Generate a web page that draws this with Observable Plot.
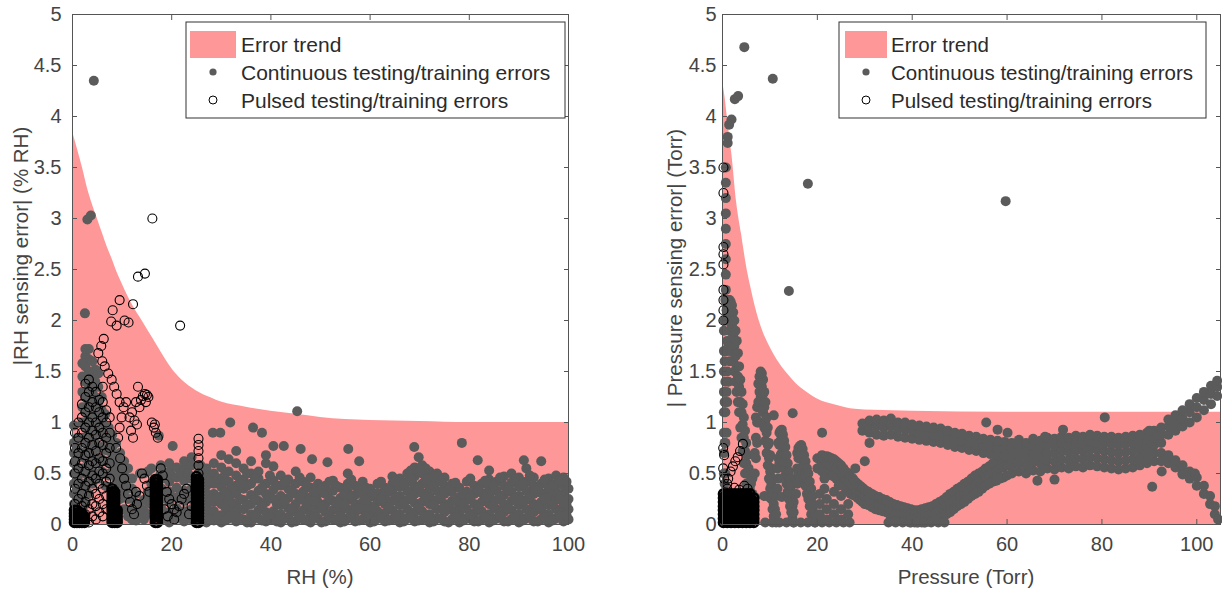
<!DOCTYPE html>
<html><head><meta charset="utf-8">
<script src="https://cdn.jsdelivr.net/npm/d3@7"></script>
<script src="https://cdn.jsdelivr.net/npm/@observablehq/plot@0.6"></script>
<style>
body{margin:0;background:#fff;font-family:"Liberation Sans",Arial,sans-serif}
#wrap{position:relative;width:1222px;height:590px;overflow:hidden}
.panel{position:absolute;top:0}
</style></head><body><div id="wrap"><div class="panel" id="left" style="left:0"></div><div class="panel" id="right" style="left:611px"></div></div>
<script>
// ---------- DATA ----------
const xTicks = [0, 20, 40, 60, 80, 100];
const yTicks = [0, 0.5, 1, 1.5, 2, 2.5, 3, 3.5, 4, 4.5, 5];

// Error trend (upper edge of the shaded band)
const rhTrendX = [0,1,2,3,4,5,6,7,8,9,10,12,14,16,18,20,22,25,28,30,35,40,45,50,55,60,70,80,90,100];
const rhTrendY = [3.85,3.68,3.5,3.3,3.14,3.0,2.86,2.72,2.6,2.47,2.36,2.16,2.0,1.84,1.68,1.53,1.42,1.31,1.24,1.2,1.15,1.11,1.08,1.05,1.03,1.02,1.01,1.0,1.0,1.0];
const pTrendX = [0,0.5,1,2,3,4,5,6,7,8,10,12,14,16,18,20,24,28,32,40,60,80,100,105];
const pTrendY = [4.35,4.2,4.0,3.62,3.15,2.85,2.55,2.32,2.12,1.96,1.74,1.58,1.46,1.36,1.29,1.23,1.17,1.13,1.12,1.11,1.1,1.1,1.1,1.1];

// RH panel: continuous errors, "x: y y y"
const rhContinuous = [
 "4.3:4.35","3.0:2.99","3.7:3.03","2.5:2.07","45.3:1.11",
 "0.3:0.03 0.1 0.2 0.3 0.4 0.5 0.6 0.7 0.8 0.97",
 "1.0:0.05 0.15 0.25 0.35 0.45 0.55 0.65 0.75 0.85",
 "1.5:0.1 0.3 0.5 0.7",
 "2.0:0.1 0.25 0.4 0.55 0.7 0.85 1.0 1.15 1.3 1.45 1.58",
 "2.6:0.2 0.35 0.5 0.65 0.8 0.95 1.1 1.25 1.4 1.55 1.65 1.72",
 "3.3:0.3 0.45 0.6 0.75 0.9 1.05 1.2 1.35 1.5 1.62 1.72",
 "4.0:0.4 0.55 0.7 0.85 1.0 1.15 1.3 1.45 1.6",
 "4.6:0.5 0.65 0.8 0.95 1.1 1.25 1.4 1.52",
 "5.2:0.45 0.6 0.75 0.9 1.05 1.2 1.35 1.48",
 "5.9:0.52 0.64 0.76 0.88 1.0 1.12 1.25",
 "6.6:0.38 0.5 0.62 0.73 0.85 0.96 1.08",
 "7.3:0.36 0.48 0.6 0.72 0.83 0.95",
 "8.0:0.52 0.64 0.76 0.88",
 "8.8:0.45 0.56 0.68 0.8",
 "9.6:0.25 0.4 0.5 0.6 0.7",
 "10.4:0.15 0.32 0.42 0.52 0.62",
 "11.2:0.08 0.25 0.35 0.45 0.55",
 "12.0:0.05 0.15 0.25 0.35 0.45",
 "12.8:0.04 0.1 0.2 0.3",
 "13.6:0.08 0.16 0.5",
 "14.4:0.05 0.14 0.24 0.5",
 "15.2:0.1 0.22 0.32 0.52",
 "15.9:0.2 0.3 0.4 0.55",
 "17.4:0.87","17.8:0.5 0.58",
 "18.0:0.05 0.15 0.25 0.35 0.45",
 "18.8:0.1 0.3 0.5",
 "19.5:0.02 0.12 0.22 0.32 0.42 0.52 0.6",
 "20.2:0.77 0.07 0.27 0.47",
 "21.0:0.06 0.16 0.26 0.36 0.46 0.56",
 "21.8:0.1 0.3 0.5",
 "22.5:0.03 0.13 0.23 0.33 0.43 0.55 0.62",
 "23.3:0.08 0.28 0.5",
 "24.0:0.05 0.15 0.25 0.35 0.45 0.58 0.66",
 "25.8:0.05 0.12 0.2 0.28 0.36 0.44 0.52 0.58",
 "27.0:0.02 0.1 0.18 0.3 0.38 0.47 0.55",
 "28.5:0.04 0.13 0.22 0.3 0.4 0.5 0.6",
 "30.0:0.02 0.09 0.2 0.28 0.37 0.45 0.56 0.68",
 "31.5:0.06 0.14 0.25 0.33 0.42 0.52 0.64",
 "33.0:0.03 0.11 0.19 0.3 0.38 0.48 0.6 0.72",
 "34.5:0.05 0.15 0.24 0.35 0.44 0.55",
 "36.0:0.02 0.1 0.2 0.29 0.4 0.5 0.62",
 "37.5:0.06 0.14 0.23 0.33 0.45 0.52",
 "39.0:0.03 0.12 0.22 0.3 0.4 0.6 0.68",
 "40.5:0.05 0.13 0.25 0.34 0.43 0.57",
 "42.0:0.02 0.1 0.19 0.28 0.38 0.48",
 "43.5:0.07 0.16 0.26 0.35 0.44",
 "45.0:0.03 0.12 0.2 0.3 0.4 0.52",
 "46.5:0.05 0.14 0.24 0.32 0.42",
 "48.0:0.02 0.1 0.18 0.27 0.36 0.46",
 "49.5:0.06 0.15 0.22 0.3 0.4",
 "51.0:0.03 0.12 0.2 0.3 0.38",
 "52.5:0.05 0.14 0.23 0.33 0.43",
 "54.0:0.02 0.1 0.18 0.26 0.36",
 "55.5:0.06 0.15 0.24 0.32 0.4 0.5",
 "57.0:0.03 0.12 0.2 0.29 0.38",
 "58.5:0.05 0.14 0.22 0.3 0.42",
 "60.0:0.02 0.1 0.18 0.27 0.35",
 "61.5:0.06 0.13 0.22 0.31 0.4",
 "63.0:0.03 0.11 0.2 0.28 0.36",
 "64.5:0.05 0.14 0.23 0.32 0.4 0.47",
 "66.0:0.02 0.1 0.19 0.28 0.37 0.45",
 "67.5:0.06 0.15 0.24 0.33 0.42 0.5",
 "69.0:0.03 0.12 0.21 0.3 0.38 0.47 0.56",
 "70.5:0.05 0.13 0.22 0.31 0.4 0.5 0.58",
 "72.0:0.02 0.1 0.2 0.28 0.36 0.45 0.52",
 "73.5:0.06 0.15 0.24 0.33 0.42 0.5",
 "75.0:0.03 0.12 0.2 0.3 0.38 0.46",
 "76.5:0.05 0.14 0.23 0.32 0.4",
 "78.0:0.02 0.1 0.18 0.27 0.36",
 "79.5:0.06 0.15 0.24 0.32 0.42",
 "81.0:0.03 0.11 0.2 0.3 0.38",
 "82.5:0.05 0.13 0.22 0.31 0.4",
 "84.0:0.02 0.1 0.2 0.28 0.36 0.44",
 "85.5:0.06 0.15 0.24 0.33 0.42",
 "87.0:0.03 0.12 0.2 0.29 0.38 0.47",
 "88.5:0.05 0.14 0.23 0.32 0.41 0.5",
 "90.0:0.02 0.1 0.19 0.28 0.37 0.46",
 "91.5:0.06 0.15 0.24 0.33 0.42 0.55",
 "93.0:0.03 0.12 0.2 0.3 0.38 0.46",
 "94.5:0.05 0.14 0.22 0.31 0.4",
 "96.0:0.02 0.1 0.19 0.28 0.36 0.45",
 "97.5:0.06 0.15 0.24 0.32 0.4 0.48",
 "99.0:0.03 0.12 0.2 0.3 0.38 0.46",
 "100.0:0.05 0.15 0.25 0.35",
 "26.4:0.07 0.24 0.4","27.8:0.05 0.22 0.42","29.2:0.08 0.26 0.45","30.8:0.04 0.17 0.32 0.5","32.2:0.09 0.21 0.37",
 "33.8:0.06 0.25 0.43","35.2:0.02 0.19 0.38 0.5","36.8:0.08 0.25 0.45","38.2:0.04 0.18 0.36","39.8:0.07 0.26 0.48",
 "41.2:0.03 0.2 0.38","42.8:0.06 0.23 0.42","44.2:0.02 0.16 0.34","45.8:0.08 0.27 0.46","47.2:0.04 0.2 0.38",
 "48.8:0.07 0.23 0.32","50.2:0.02 0.18 0.35","51.8:0.08 0.25 0.42","53.2:0.05 0.21 0.38","54.8:0.03 0.19 0.3",
 "56.2:0.07 0.28 0.44","57.8:0.04 0.16 0.33","59.2:0.08 0.24 0.36","60.8:0.03 0.16 0.3","62.2:0.07 0.25 0.42",
 "63.8:0.04 0.17 0.34","65.2:0.08 0.27 0.43","66.8:0.03 0.21 0.4","68.2:0.07 0.26 0.45 0.53","69.8:0.04 0.17 0.36 0.52",
 "71.2:0.08 0.27 0.44 0.55","72.8:0.03 0.19 0.38 0.47","74.2:0.06 0.26 0.43","75.8:0.02 0.18 0.35","77.2:0.07 0.23 0.41",
 "78.8:0.04 0.2 0.3","80.2:0.08 0.27 0.45","81.8:0.03 0.16 0.34","83.2:0.07 0.26 0.43","84.8:0.04 0.18 0.38",
 "86.2:0.08 0.27 0.46","87.8:0.03 0.16 0.34","89.2:0.07 0.26 0.44","90.8:0.04 0.23 0.4","92.2:0.08 0.27 0.48",
 "93.8:0.03 0.17 0.35","95.2:0.07 0.26 0.44","96.8:0.04 0.2 0.38","98.2:0.08 0.25 0.43","99.6:0.09 0.2 0.42",
 "28.3:0.9","29.8:0.9","31.8:1.0","36.4:0.95","38.2:0.9","40.5:0.77","42.6:0.77",
 "46.0:0.74","48.3:0.64","51.4:0.61","55.6:0.74","57.8:0.62","68.9:0.76","69.8:0.66",
 "78.5:0.8","81.7:0.63","84.0:0.53","91.0:0.63","94.5:0.62"
];

// RH panel: pulsed errors (scattered)
const rhPulsed = [
 "16.1:3.0","13.2:2.43","14.6:2.46","12.2:2.16","9.5:2.2","21.7:1.95",
 "8.1:2.1","7.8:1.99","8.9:1.95","10.5:2.0","11.3:1.98",
 "6.3:1.82","5.8:1.75","5.2:1.68","6.0:1.6","6.5:1.55","7.2:1.48","7.9:1.42","8.4:1.35","8.9:1.28",
 "0.5:0.05 0.2 0.35 0.5 0.62 0.75 0.9",
 "1.2:0.1 0.25 0.4 0.55 0.7 0.85 1.0",
 "1.9:0.05 0.18 0.3 0.45 0.6 0.75 0.9 1.05 1.18",
 "2.6:0.1 0.22 0.38 0.52 0.68 0.8 0.95 1.1 1.25 1.38",
 "3.3:0.02 0.15 0.28 0.42 0.58 0.7 0.85 1.0 1.15 1.3 1.42",
 "4.0:0.08 0.2 0.35 0.48 0.62 0.78 0.92 1.05 1.2 1.35",
 "4.7:0.05 0.18 0.3 0.45 0.6 0.72 0.88 1.0 1.15 1.3",
 "5.4:0.12 0.25 0.4 0.52 0.65 0.8 0.95 1.1 1.22",
 "6.1:0.08 0.2 0.35 0.5 0.62 0.78 0.9 1.05 1.2 1.35",
 "6.8:0.15 0.28 0.42 0.55 0.7 0.85 1.0 1.12",
 "7.5:0.45 0.6 0.75 0.9 1.05",
 "9.5:0.95 1.2","9.9:1.05","10.3:1.15","10.8:1.2 0.38","9.2:0.85","8.8:0.75","9.6:0.65","10.0:0.55","10.4:0.45",
 "11.2:0.3","11.6:0.22","12.0:0.15 1.1","12.4:0.1",
 "11.5:1.05","12.5:1.02","12.8:1.2 0.32","13.0:0.98 0.2","13.2:1.35","13.5:1.15 0.28","11.8:0.92","12.2:0.85",
 "13.8:1.22","14.2:1.26","14.6:1.28","15.0:1.27 0.38","15.3:1.25","14.8:1.2",
 "16.0:1.0","16.4:0.95","16.6:0.98","16.8:0.9","17.2:0.85",
 "14.0:0.5","14.5:0.45","15.5:0.32",
 "17.8:0.55","18.2:0.48","18.6:0.4","19.0:0.32","19.5:0.25","20.0:0.2","20.5:0.15 0.05","21.0:0.12","21.5:0.18",
 "22.0:0.25","22.5:0.3","23.0:0.35","18.5:0.15","19.2:0.08","23.5:0.1","24.0:0.18",
 "25.4:0.5 0.58 0.65 0.72 0.78 0.84"
];
// RH panel: pulsed errors packed into solid columns
const rhPulsedDense = [
 "8.0:0.02 0.05 0.08 0.11 0.14 0.17 0.2 0.23 0.26 0.29 0.32 0.35",
 "8.5:0.02 0.05 0.08 0.11 0.14 0.17 0.2 0.23 0.26 0.29 0.32",
 "9.0:0.02 0.05 0.08 0.11 0.14",
 "16.7:0.02 0.05 0.08 0.11 0.14 0.17 0.2 0.23 0.26 0.29 0.32 0.35 0.38 0.41 0.44",
 "17.1:0.02 0.05 0.08 0.11 0.14 0.17 0.2 0.23 0.26 0.29 0.32 0.35 0.38 0.41 0.44",
 "25.0:0.02 0.05 0.08 0.11 0.14 0.17 0.2 0.23 0.26 0.29 0.32 0.35 0.38 0.41 0.44 0.47",
 "25.4:0.02 0.05 0.08 0.11 0.14 0.17 0.2 0.23 0.26 0.29 0.32 0.35 0.38 0.41 0.44",
 "0.4:0.02 0.05 0.08 0.11 0.14","0.9:0.02 0.05 0.08 0.11 0.14","1.4:0.02 0.05 0.08 0.11","1.9:0.02 0.05 0.08 0.11","2.4:0.02 0.05 0.08"
];

// Pressure panel: continuous errors
const pContinuous = [
 "4.6:4.68","10.6:4.37","2.6:4.17","3.3:4.2","1.9:3.97","1.4:3.92","1.1:3.74 3.8","18.0:3.34","14.0:2.29","59.7:3.17",
 "0.7:2.3 2.45 2.6 2.75 2.9 3.05 3.2 3.35 3.5",
 "0.3:0.1 0.3 0.5 0.7 0.9 1.1 1.3 1.5 1.7 1.9",
 "0.45:0.4 0.8 1.2 1.6 2.0",
 "0.6:0.2 0.5 0.8 1.1 1.4 1.7 2.0 2.2",
 "0.85:0.9 1.3 1.7 2.1",
 "1.0:1.2 1.5 1.8 2.0 2.15","1.25:1.4 1.75 2.05 2.2","1.5:1.6 1.9 2.1 2.2","1.75:1.7 2.0 2.18","2.0:1.7 1.95 2.15",
 "2.25:1.6 1.85 2.08","2.5:1.5 1.75 2.0","2.75:1.4 1.65 1.9",
 "3.0:1.3 1.55 1.8","3.25:1.2 1.45 1.68","3.5:1.1 1.35 1.55","3.75:0.95 1.2 1.42","4.0:0.85 1.1 1.3","4.25:0.72 0.98 1.18",
 "4.5:0.6 0.85 1.05","4.75:0.5 0.72 0.92","5.0:0.4 0.6 0.8","5.25:0.32 0.5 0.68","5.5:0.25 0.4 0.55","5.75:0.25 0.35 0.48","6.0:0.3 0.4",
 "6.3:0.3 0.45","6.8:0.5 0.7 0.27","7.05:0.65 0.85 1.05","7.3:0.8 1.0 1.15","7.55:1.0 1.2 1.38","7.8:1.15 1.3 1.45",
 "8.05:1.25 1.4 1.5","8.3:1.2 1.35 1.48","8.55:1.1 1.28 1.42","8.8:0.95 1.15 1.3 0.28","9.05:0.82 1.02 1.2",
 "9.3:0.7 0.9 1.05","9.55:0.58 0.78 0.95","9.8:0.45 0.65 0.8 0.27","10.05:0.35 0.52 0.68","10.3:0.25 0.4 0.55",
 "10.55:0.15 0.3 0.45","10.8:0.08 0.2 0.32 1.07","11.05:0.05 0.15","11.3:0.02 0.1 0.28",
 "11.6:0.35 0.55","11.8:0.45 0.65 0.8","12.0:0.6 0.78 0.9","12.25:0.68 0.82 0.92","12.5:0.7 0.85 0.93 0.27","12.75:0.62 0.78 0.88",
 "13.0:0.55 0.7 0.82","13.25:0.48 0.62 0.76","13.5:0.4 0.55 0.68","13.75:0.32 0.48 0.6",
 "14.0:0.25 0.4 0.52","14.25:0.18 0.32 0.45","14.5:0.12 0.25 0.38","14.75:0.06 0.18 0.3","15.0:0.02 0.12 0.22","14.8:1.09",
 "15.5:0.3 0.45","15.75:0.4 0.55 0.7","16.0:0.5 0.65 0.75","16.3:0.55 0.68 0.77","16.6:0.55 0.68 0.78","16.9:0.5 0.63 0.74",
 "17.2:0.45 0.58 0.68","17.5:0.38 0.5 0.62","17.8:0.3 0.45 0.55","18.1:0.25 0.38 0.5",
 "18.4:0.18 0.3 0.42","18.7:0.1 0.22 0.35","19.0:0.05 0.15 0.28","19.5:0.02 0.1",
 "20.0:0.55 0.65","20.5:0.56 0.64","21.0:0.52 0.62 0.68 0.9","21.5:0.55 0.63","22.0:0.5 0.6 0.67","22.5:0.49 0.59 0.66",
 "23.0:0.48 0.58 0.65","23.5:0.47 0.57 0.64","24.0:0.45 0.55 0.62","24.5:0.43 0.53 0.6",
 "25.0:0.4 0.5 0.58","25.5:0.38 0.48 0.55","26.0:0.35 0.45 0.52","26.5:0.33 0.43 0.5","27.0:0.3 0.4 0.47","27.5:0.29 0.38 0.45",
 "28.0:0.28 0.36 0.42 0.55","28.5:0.26 0.34 0.4","29.0:0.24 0.32 0.38","29.5:0.22 0.3 0.36",
 "30.0:0.2 0.28 0.34 0.62","30.75:0.19 0.26 0.32","31.0:0.8","31.5:0.17 0.24 0.3","32.25:0.15 0.22 0.28","33.0:0.14 0.2 0.27",
 "33.75:0.13 0.19 0.25","34.5:0.12 0.18 0.24","35.25:0.1 0.16 0.22","36.0:0.08 0.14 0.2","36.75:0.06 0.13 0.19",
 "37.5:0.05 0.12 0.18","38.25:0.04 0.11 0.17","39.0:0.03 0.1 0.16","39.75:0.02 0.09 0.15","40.5:0.02 0.08 0.14",
 "41.25:0.02 0.08 0.14","42.0:0.02 0.08 0.15","42.75:0.02 0.09 0.16","43.5:0.03 0.1 0.17","44.25:0.04 0.11 0.18",
 "45.0:0.05 0.12 0.2","45.75:0.06 0.14 0.22","46.5:0.08 0.16 0.24","47.25:0.1 0.18 0.27","48.0:0.12 0.2 0.3",
 "48.75:0.15 0.23 0.32","49.5:0.18 0.26 0.35","50.25:0.2 0.28 0.37","51.0:0.22 0.3 0.4","51.75:0.25 0.33 0.42",
 "52.5:0.28 0.36 0.45","53.25:0.3 0.39 0.48","54.0:0.32 0.42 0.5","54.75:0.35 0.44 0.52","55.5:0.38 0.46 0.55",
 "56.25:0.4 0.48 0.57","57.0:0.42 0.5 0.6","57.75:0.43 0.52 0.62","58.5:0.45 0.55 0.64","59.25:0.46 0.56 0.65","60.0:0.48 0.58 0.67",
 "29.5:0.92 0.99","31.0:0.9 0.98 1.02","32.5:0.88 0.96 1.03","34.0:0.87 0.95 1.02","35.5:0.88 0.96 1.04","37.0:0.86 0.94 1.0",
 "38.5:0.85 0.93 1.0","40.0:0.84 0.92 0.98","41.5:0.83 0.9 0.97","43.0:0.82 0.89 0.96","44.5:0.81 0.88 0.95","46.0:0.8 0.87 0.94",
 "47.5:0.78 0.85 0.92","49.0:0.76 0.84 0.9","50.5:0.75 0.82 0.89","52.0:0.73 0.8 0.87","53.5:0.72 0.78 0.86","55.0:0.7 0.77 0.84",
 "56.5:0.69 0.76 0.83","58.0:0.68 0.75 0.82","59.5:0.67 0.74 0.81",
 "61.0:0.5 0.58 0.66 0.74 0.8","62.5:0.52 0.6 0.68 0.76 0.83","64.0:0.5 0.58 0.66 0.73 0.8","65.5:0.53 0.61 0.69 0.77 0.84",
 "67.0:0.52 0.6 0.67 0.75 0.82","68.5:0.55 0.63 0.7 0.78 0.85","70.0:0.54 0.62 0.7 0.77 0.84","71.5:0.56 0.64 0.72 0.8 0.86",
 "73.0:0.55 0.63 0.71 0.78 0.85","74.5:0.57 0.65 0.73 0.8 0.87","76.0:0.56 0.64 0.72 0.79 0.86","77.5:0.58 0.66 0.74 0.82 0.88",
 "79.0:0.57 0.65 0.73 0.8 0.87","80.5:0.56 0.64 0.72 0.8 0.86","82.0:0.55 0.63 0.71 0.79 0.86","83.5:0.54 0.62 0.7 0.78 0.85",
 "85.0:0.55 0.63 0.71 0.79 0.86","86.5:0.56 0.64 0.72 0.8 0.87","88.0:0.58 0.66 0.74 0.82 0.88","89.5:0.6 0.68 0.76 0.83 0.9",
 "91.0:0.62 0.7 0.78 0.85 0.92","92.5:0.62 0.7 0.8 0.88 0.95",
 "94.0:0.88 0.96 1.03 0.6 0.68","95.5:0.92 1.0 1.07 0.56 0.63","97.0:0.96 1.04 1.12 0.5 0.58","98.5:1.0 1.1 1.18 0.45 0.52",
 "100.0:1.05 1.15 1.24 0.38 0.46","101.5:1.12 1.22 1.3 0.3 0.38","102.8:0.2 0.28","103.0:1.18 1.28 1.36","103.8:0.1 0.18",
 "104.3:1.26 1.35 1.41","104.5:0.05",
 "55.6:1.0","58.0:0.93","60.1:0.9","68.0:0.86","71.8:0.93","80.6:1.05","90.0:0.92","66.4:0.43","70.0:0.44","90.6:0.37",
 "92.6:0.52","97.0:0.49","99.6:0.5",
 "9.0:0.02","10.5:0.02","12.0:0.02","13.5:0.02","15.0:0.02","16.5:0.02","18.0:0.02","19.5:0.02","21.0:0.02",
 "22.5:0.02","24.0:0.02","25.5:0.02","26.8:0.02","35.0:0.02","36.5:0.02","38.0:0.02","39.5:0.02","41.0:0.02",
 "42.5:0.02","44.0:0.02","45.5:0.02","46.8:0.02",
 "20.5:0.1 0.2 0.3","22.0:0.05 0.15 0.25","23.5:0.1 0.2 0.32","25.0:0.05 0.15 0.28","26.5:0.1 0.2","21.5:0.35 0.45","24.5:0.38"
];

// Pressure panel: pulsed errors (scattered)
const pPulsed = [
 "0.2:2.0 2.1 2.2 2.3 2.55 2.65 2.72 3.25 3.5",
 "0.15:0.75 0.55","0.35:0.68 0.45","1.2:0.45","1.7:0.52","2.2:0.57","2.7:0.62","3.2:0.66","3.7:0.72","4.3:0.79",
 "4.6:0.38","5.3:0.35","1.0:0.35 0.4","2.5:0.36","3.5:0.34"
];
// Pressure panel: pulsed errors packed into a solid block
const pPulsedDense = [
 "0.2:0.02 0.06 0.1 0.14 0.18 0.22 0.26 0.3","0.6:0.04 0.08 0.12 0.16 0.2 0.24 0.28",
 "1.0:0.02 0.06 0.1 0.14 0.18 0.22 0.26 0.3","1.4:0.04 0.08 0.12 0.16 0.2 0.24 0.28",
 "1.8:0.02 0.06 0.1 0.14 0.18 0.22 0.26 0.3","2.2:0.04 0.08 0.12 0.16 0.2 0.24 0.28",
 "2.6:0.02 0.06 0.1 0.14 0.18 0.22 0.26 0.3","3.0:0.04 0.08 0.12 0.16 0.2 0.24 0.28",
 "3.4:0.02 0.06 0.1 0.14 0.18 0.22 0.26 0.3","3.8:0.04 0.08 0.12 0.16 0.2 0.24 0.28",
 "4.2:0.02 0.06 0.1 0.14 0.18 0.22 0.26 0.3","4.6:0.04 0.08 0.12 0.16 0.2 0.24 0.28",
 "5.0:0.02 0.06 0.1 0.14 0.18 0.22 0.26 0.3","5.4:0.04 0.08 0.12 0.16 0.2 0.24 0.28",
 "5.8:0.02 0.06 0.1 0.14 0.18 0.22 0.26 0.3","6.2:0.04 0.08 0.12 0.16 0.2 0.24",
 "6.6:0.02 0.06 0.1 0.14 0.18 0.22 0.26"
];

const legendLabels = ["Error trend", "Continuous testing/training errors", "Pulsed testing/training errors"];

// ---------- BUILD ----------
function parse(cols) {
  const out = [];
  for (const c of cols) {
    const [x, ys] = c.split(":");
    for (const y of ys.trim().split(/\s+/)) out.push({x: +x, y: +y});
  }
  return out;
}
const zip = (xs, ys) => xs.map((x, i) => ({x, y: ys[i]}));

const PINK = "#fe9898", GRAY = "#5b5b5b", INK = "#2b2b2b", TICK = "#444";
const FONT = "'Liberation Sans', Arial, sans-serif";

function panel(o) {
  const svg = Plot.plot({
    width: 611, height: 590,
    marginLeft: o.ml, marginRight: o.mr, marginTop: 14, marginBottom: 66,
    x: {domain: o.xd}, y: {domain: [0, 5]},
    style: {fontFamily: FONT, fontSize: "20px", color: TICK, background: "#fff", overflow: "visible"},
    marks: [
      Plot.areaY(o.trend, {x: "x", y: "y", fill: PINK, curve: "monotone-x"}),
      Plot.dot(o.cont, {x: "x", y: "y", r: 5, fill: GRAY}),
      Plot.dot(o.puls, {x: "x", y: "y", r: 4.5, stroke: "#000", strokeWidth: 1.1, fill: "none"}),
      Plot.dot(o.dense, {x: "x", y: "y", r: 4.5, stroke: "#000", strokeWidth: 2.6, fill: "none"}),
      Plot.frame({stroke: "#555"}),
      Plot.axisX(xTicks, {anchor: "bottom", tickSize: -5, tickPadding: 17, tickFormat: d => String(d), label: null, stroke: "#555"}),
      Plot.axisX(xTicks, {anchor: "top", tickSize: -5, tickFormat: () => "", label: null, stroke: "#555"}),
      Plot.axisY(yTicks, {anchor: "left", tickSize: -5, tickPadding: o.yPad, tickFormat: d => String(d), label: null, stroke: "#555"}),
      Plot.axisY(yTicks, {anchor: "right", tickSize: -5, tickFormat: () => "", label: null, stroke: "#555"})
    ]
  });
  const s = d3.select(svg);
  // axis titles
  s.append("text").attr("x", o.xlabX).attr("y", 584).attr("text-anchor", "middle")
    .attr("font-size", 20.5).attr("fill", TICK).attr("font-family", FONT).text(o.xlab);
  s.append("text").attr("transform", `translate(${o.ylabX},${o.ylabY}) rotate(-90)`).attr("text-anchor", "middle")
    .attr("dominant-baseline", "central").attr("font-size", 20.5).attr("fill", TICK).attr("font-family", FONT).text(o.ylab);
  // legend
  const L = o.leg;
  const g = s.append("g").attr("font-family", FONT).attr("font-size", L.fs).attr("fill", INK).attr("text-anchor", "start");
  g.append("rect").attr("x", L.x).attr("y", 22).attr("width", L.w).attr("height", 96)
    .attr("fill", "#fff").attr("stroke", "#333").attr("stroke-width", 1);
  g.append("rect").attr("x", L.x + L.sw0).attr("y", 31).attr("width", L.sw).attr("height", 27).attr("fill", PINK);
  g.append("circle").attr("cx", L.x + L.mk).attr("cy", 72).attr("r", 3.6).attr("fill", GRAY);
  g.append("circle").attr("cx", L.x + L.mk).attr("cy", 100).attr("r", 4).attr("fill", "none").attr("stroke", "#000");
  legendLabels.forEach((t, i) => {
    g.append("text").attr("x", L.x + L.tx).attr("y", 44 + 28 * i).attr("dominant-baseline", "central").attr("text-anchor", "start").text(t);
  });
  return svg;
}

document.getElementById("left").append(panel({
  ml: 72, mr: 43, xd: [0, 100], yPad: 16,
  trend: zip(rhTrendX, rhTrendY), cont: parse(rhContinuous), puls: parse(rhPulsed), dense: parse(rhPulsedDense),
  xlab: "RH (%)", xlabX: 320, ylab: "|RH sensing error| (% RH)", ylabX: 20, ylabY: 246,
  leg: {x: 186, w: 379, sw0: 4, sw: 46, mk: 27, tx: 55, fs: 21}
}));
document.getElementById("right").append(panel({
  ml: 111, mr: 2, xd: [0, 105], yPad: 11,
  trend: zip(pTrendX, pTrendY), cont: parse(pContinuous), puls: parse(pPulsed), dense: parse(pPulsedDense),
  xlab: "Pressure (Torr)", xlabX: 355, ylab: "| Pressure sensing error| (Torr)", ylabX: 63, ylabY: 268,
  leg: {x: 228, w: 367, sw0: 6, sw: 42, mk: 27, tx: 52, fs: 20.5}
}));
</script>
</body></html>
